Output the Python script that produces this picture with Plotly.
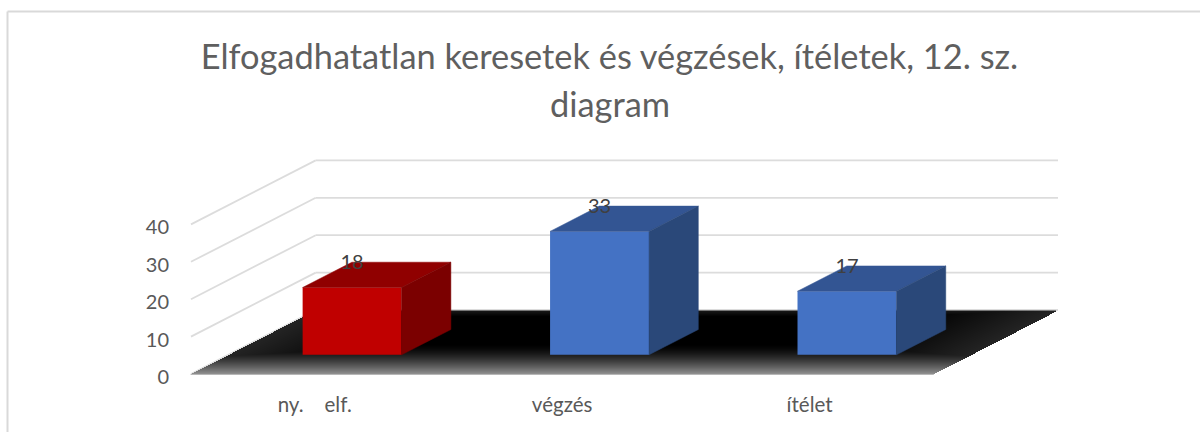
import numpy as np
import plotly.graph_objects as go

title_line1 = "Elfogadhatatlan keresetek és végzések, ítéletek, 12. sz."
title_line2 = "diagram"
categories = ["ny.\u00a0\u00a0\u00a0\u00a0elf.", "végzés", "ítélet"]
values = [18, 33, 17]
y_ticks = [0, 10, 20, 30, 40]

front_colors = ["#C00000", "#4472C4", "#4472C4"]
top_colors = ["#900000", "#335593", "#335593"]
side_colors = ["#7B0000", "#2A4879", "#2A4879"]

FONT = "Lato, Carlito, Calibri, sans-serif"
W, H = 1200, 432
L, R, T, B = 181, 1068, 150, 384          # plot-area box in pixels
PX_X, PX_Y = 248.0, 3.74                  # pixels per category / per value unit
DX, DY = 125 / PX_X, 64 / PX_Y            # full floor depth, in axis units
X0 = -0.5
X1 = 2.5
BAR_W = 0.4
D0, D1 = 0.3, 0.695                       # bar depth extent, fraction of the floor

xr = [X0 - 10 / PX_X, X1 + DX + 10 / PX_X]
yr = [-10 / PX_Y, (384 - T) / PX_Y - 10 / PX_Y]

fig = go.Figure()

# Floor gradient (styling only): black centre fading to grey at the edges
xs = np.arange(X0, X1 + DX, 1 / PX_X)
ys = np.arange(0, DY, 1 / PX_Y)
XX, YY = np.meshgrid(xs, ys)
t = YY / DY
u = (XX - X0 - t * DX) / (X1 - X0)
front = 0.58 * np.clip(1 - YY * PX_Y / 30, 0, 1) ** 1.5
edge = 0.14 * np.clip(1 - np.minimum(u, 1 - u) * 744 / 130, 0, 1)
back = 0.10 * np.clip(1 - (DY - YY) * PX_Y / 6, 0, 1)
z = np.maximum(np.maximum(front, edge), back)
z[(u < 0) | (u > 1)] = np.nan
fig.add_trace(go.Heatmap(x=xs, y=ys, z=z, zmin=0, zmax=1, showscale=False,
                         colorscale=[[0, "#000000"], [1, "#ffffff"]],
                         hoverinfo="skip"))

# Front faces
centers = [i + D0 * DX for i in range(len(values))]
fig.add_trace(go.Bar(x=centers, y=values, base=[D0 * DY] * len(values), width=BAR_W,
                     marker=dict(color=front_colors, line=dict(width=0)),
                     hoverinfo="skip", showlegend=False))

# Top and side faces
ddx, ddy = (D1 - D0) * DX, (D1 - D0) * DY
for cx, v, tc, sc in zip(centers, values, top_colors, side_colors):
    xl, xh = cx - BAR_W / 2, cx + BAR_W / 2
    y_b, y_t = D0 * DY, D0 * DY + v
    fig.add_trace(go.Scatter(x=[xl, xh, xh + ddx, xl + ddx, xl],
                             y=[y_t, y_t, y_t + ddy, y_t + ddy, y_t],
                             fill="toself", fillcolor=tc, mode="lines",
                             line=dict(color=tc, width=0.5),
                             hoverinfo="skip", showlegend=False))
    fig.add_trace(go.Scatter(x=[xh, xh + ddx, xh + ddx, xh, xh],
                             y=[y_b, y_b + ddy, y_t + ddy, y_t, y_b],
                             fill="toself", fillcolor=sc, mode="lines",
                             line=dict(color=sc, width=0.5),
                             hoverinfo="skip", showlegend=False))

# Data labels
fig.add_trace(go.Scatter(x=centers, y=[D0 * DY + v + 23 / PX_Y for v in values],
                         text=[str(v) for v in values], mode="text",
                         textposition="middle center",
                         textfont=dict(family=FONT, size=20, color="#404040"),
                         hoverinfo="skip", showlegend=False))

# L-shaped gridlines on the side and back walls
shapes = []
grid = dict(color="#DCDCDC", width=1.8)
for v in y_ticks:
    shapes.append(dict(type="line", xref="x", yref="y", layer="below", line=grid,
                       x0=X0, y0=v, x1=X0 + DX, y1=v + DY))
    shapes.append(dict(type="line", xref="x", yref="y", layer="below", line=grid,
                       x0=X0 + DX, y0=v + DY, x1=X1 + DX, y1=v + DY))
shapes.append(dict(type="line", xref="x", yref="y", layer="below", line=grid,
                   x0=X0, y0=0, x1=X1, y1=0))


def px(x):
    return (x - L) / (R - L)


def py(y):
    return (B - y) / (B - T)


# Chart-area frame (top and left edges only are in view)
frame = dict(color="#D9D9D9", width=2)
shapes.append(dict(type="line", xref="paper", yref="paper", line=frame,
                   x0=px(7.5), y0=py(11.5), x1=px(1200), y1=py(11.5)))
shapes.append(dict(type="line", xref="paper", yref="paper", line=frame,
                   x0=px(7.5), y0=py(11.5), x1=px(7.5), y1=py(432)))

fig.update_layout(
    width=W, height=H, paper_bgcolor="white", plot_bgcolor="rgba(0,0,0,0)",
    margin=dict(l=L, r=W - R, t=T, b=H - B, autoexpand=False),
    showlegend=False, shapes=shapes,
    title=dict(text=title_line1, x=609.5 / W, xanchor="center",
               y=1 - 57 / H, yanchor="middle",
               font=dict(family=FONT, size=34.4, color="#5F5F5F")),
    annotations=[dict(text=title_line2, xref="paper", yref="paper", showarrow=False,
                      x=px(609.5), y=py(103), xanchor="center", yanchor="middle",
                      font=dict(family=FONT, size=34.4, color="#5F5F5F"))],
    xaxis=dict(range=xr, tickmode="array", tickvals=list(range(len(categories))),
               ticktext=categories, showgrid=False, zeroline=False, showline=False,
               ticks="", ticklabelstandoff=6,
               tickfont=dict(family=FONT, size=20.5, color="#595959")),
    yaxis=dict(range=yr, tickmode="array", tickvals=y_ticks, showgrid=False,
               zeroline=False, showline=False, ticks="", ticklabelstandoff=11,
               ticklabelshift=3,
               tickfont=dict(family=FONT, size=20, color="#595959")),
)

fig.write_html("out.html", config=dict(displayModeBar=False),
               post_script="document.body.style.margin='0';document.documentElement.style.overflow='hidden';")
